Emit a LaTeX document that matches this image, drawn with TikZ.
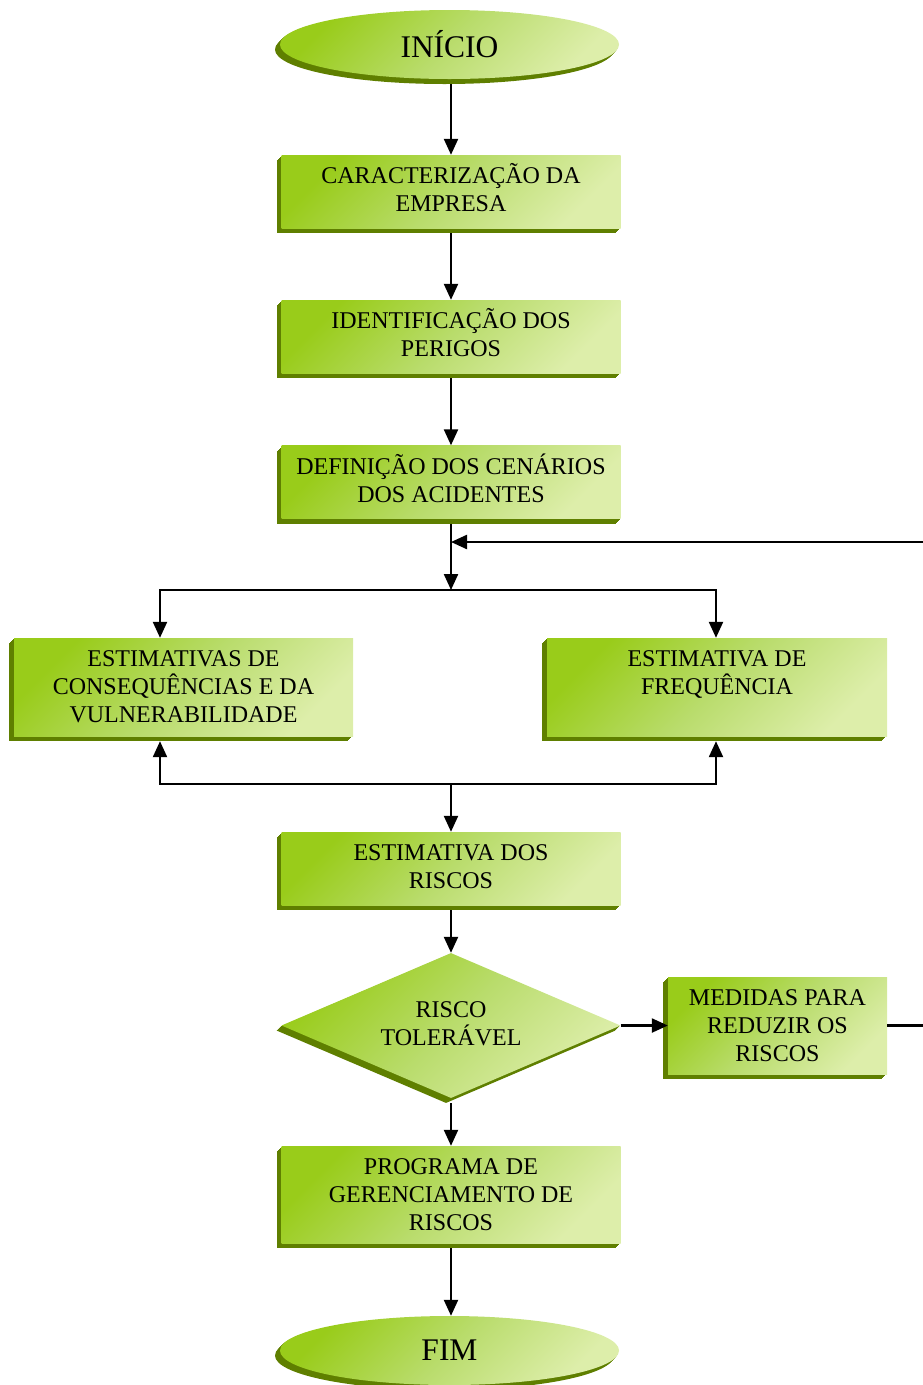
\documentclass[tikz,border=0pt]{standalone}
\usepackage{fontspec}
\setmainfont{Liberation Serif}
\usetikzlibrary{shapes.geometric,shadows,arrows.meta}
\definecolor{gdark}{HTML}{99CC1A}
\definecolor{gmid}{HTML}{B9DC6C}
\definecolor{glight}{HTML}{DDEEAA}
\definecolor{gshadow}{HTML}{5F7F00}
\tikzset{
  extr/.style={
    general shadow={fill=gshadow,shadow xshift=-1pt,shadow yshift=-1pt},
    general shadow={fill=gshadow,shadow xshift=-2pt,shadow yshift=-2pt},
    general shadow={fill=gshadow,shadow xshift=-3pt,shadow yshift=-3pt},
    general shadow={fill=gshadow,shadow xshift=-4pt,shadow yshift=-4pt},
    general shadow={fill=gshadow,shadow xshift=-5pt,shadow yshift=-5pt}},
  shade3d/.style={top color=gdark, bottom color=glight, middle color=gmid, shading angle=45},
  boxst/.style={rectangle, extr, shade3d, inner sep=0pt, align=center,
    font=\fontsize{24}{28}\selectfont},
  termst/.style={ellipse, extr, shade3d, inner sep=0pt, align=center,
    minimum width=339pt, minimum height=69pt, font=\fontsize{31.5}{36}\selectfont},
  conn/.style={line width=2.3pt, -{Triangle[length=16pt,width=14pt]}},
  both/.style={line width=2.3pt, {Triangle[length=16pt,width=14pt]}-{Triangle[length=16pt,width=14pt]}}
}
\begin{document}
\begin{tikzpicture}[x=1pt,y=1pt]
\useasboundingbox (0,0) rectangle (922,-1385);
% nodes
\node[termst] (inicio) at (449.5,-44.5) {INÍCIO};
\node[boxst, minimum width=339pt, minimum height=73pt] (b1) at (451,-191.5) {CARACTERIZAÇÃO DA\\EMPRESA\\[-20pt]\mbox{}};
\node[boxst, minimum width=339pt, minimum height=73pt] (b2) at (451,-336.5) {IDENTIFICAÇÃO DOS\\PERIGOS\\[-20pt]\mbox{}};
\node[boxst, minimum width=339pt, minimum height=73pt] (b3) at (451,-482) {DEFINIÇÃO DOS CENÁRIOS\\DOS ACIDENTES\\[-20pt]\mbox{}};
\node[boxst, minimum width=339pt, minimum height=98pt] (left) at (183.5,-687) {ESTIMATIVAS DE\\CONSEQUÊNCIAS E DA\\VULNERABILIDADE};
\node[boxst, minimum width=340pt, minimum height=98pt] (right) at (717,-687) {ESTIMATIVA DE\\FREQUÊNCIA\\\mbox{}};
\node[boxst, minimum width=339pt, minimum height=73pt] (riscos) at (451,-868.5) {ESTIMATIVA DOS\\RISCOS\\[-24pt]\mbox{}};
\node[diamond, shape aspect=2.34, extr, shade3d, inner sep=0pt, align=center, minimum width=339pt, minimum height=145pt,
  font=\fontsize{24}{28}\selectfont] (dia) at (451,-1025.5) {RISCO\\TOLERÁVEL\\[-24pt]\mbox{}};
\node[boxst, minimum width=219pt, minimum height=97pt] (med) at (777.5,-1025.5) {MEDIDAS PARA\\REDUZIR OS\\RISCOS};
\node[boxst, minimum width=339pt, minimum height=97pt] (pgr) at (451,-1194.5) {PROGRAMA DE\\GERENCIAMENTO DE\\RISCOS};
\node[termst] (fim) at (449.5,-1350.5) {FIM};
% coordinates
\coordinate (split) at (451,-590);
\coordinate (sl) at (160,-590);
\coordinate (sr) at (716,-590);
\coordinate (join) at (451,-784);
\coordinate (jl) at (160,-784);
\coordinate (jr) at (716,-784);
\coordinate (loopc) at (451,-542);
\coordinate (loopr) at (928,-542);
% connectors
\draw[conn, shorten <=5pt] (b1.north |- inicio.south) -- (b1.north);
\draw[conn, shorten <=5pt] (b1.south) -- (b2.north);
\draw[conn, shorten <=5pt] (b2.south) -- (b3.north);
\draw[conn, shorten <=5pt] (b3.south) -- (split);
\draw[both] (sl |- left.north) -- (sl) -- (sr) -- (sr |- right.north);
\draw[both, shorten <=5pt, shorten >=5pt] (jl |- left.south) -- (jl) -- (jr) -- (jr |- right.south);
\draw[conn] (join) -- (riscos.north);
\draw[conn, shorten <=5pt] (riscos.south) -- (dia.north);
\draw[conn] (dia.east) -- (med.west);
\draw[conn] (med.east) -- (med.east -| loopr) -- (loopr) -- (loopc);
\draw[conn, shorten <=5pt] (pgr.north |- dia.south) -- (pgr.north);
\draw[conn, shorten <=5pt] (pgr.south) -- (pgr.south |- fim.north);
\end{tikzpicture}
\end{document}
